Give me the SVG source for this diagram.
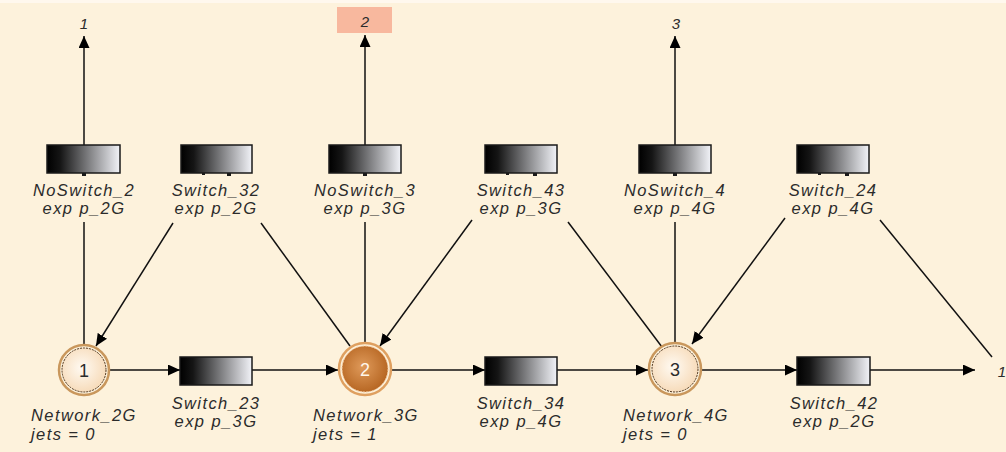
<svg xmlns="http://www.w3.org/2000/svg" width="1006" height="452" viewBox="0 0 1006 452">
  <style>
    .lbl { font-family: "Liberation Sans", Arial, sans-serif; font-style: italic; font-size: 16.5px; fill: #2b2b2b; letter-spacing: 1.4px; }
    .num { font-family: "Liberation Sans", Arial, sans-serif; font-size: 18px; fill: #2b2b2b; text-anchor: middle; }
    .ref { font-family: "Liberation Sans", Arial, sans-serif; font-style: italic; font-size: 15px; fill: #2b2b2b; text-anchor: middle; }
    .trans { fill: url(#transGrad); stroke: #1a1a1a; stroke-width: 1.5; }
    .arc { stroke: #111; stroke-width: 1.5; fill: none; }
    .arrow { marker-end: url(#head); }
    .tick { fill: #1a1a1a; }
  </style>
  <defs>
    <linearGradient id="transGrad" x1="0" y1="0" x2="1" y2="0">
      <stop offset="0" stop-color="#000"/>
      <stop offset="0.18" stop-color="#151515"/>
      <stop offset="1" stop-color="#f2f3f8"/>
    </linearGradient>
    <radialGradient id="placeLight" cx="0.45" cy="0.45" r="0.6">
      <stop offset="0" stop-color="#fffaf2"/>
      <stop offset="1" stop-color="#f6d9b6"/>
    </radialGradient>
    <radialGradient id="placeMarked" cx="0.45" cy="0.45" r="0.6">
      <stop offset="0" stop-color="#df9a5a"/>
      <stop offset="1" stop-color="#b4631f"/>
    </radialGradient>
    <marker id="head" markerUnits="userSpaceOnUse" markerWidth="13" markerHeight="12" refX="12" refY="5.5" orient="auto">
      <path d="M0,0 L12,5.5 L0,11 z" fill="#000"/>
    </marker>
  </defs>

  <!-- canvas -->
  <rect x="0" y="0" width="1006" height="452" fill="#fdf2dc"/>
  <rect x="0" y="0" width="1006" height="3" fill="#fff8ee"/>

  <!-- connectors -->
  <g id="connectors">
    <!-- outputs of the NoSwitch transitions -->
    <line class="arc arrow" x1="84" y1="145" x2="84" y2="36"/>
    <line class="arc arrow" x1="365" y1="145" x2="365" y2="35"/>
    <line class="arc arrow" x1="675" y1="145" x2="675" y2="36"/>
    <!-- places to NoSwitch transitions -->
    <line class="arc" x1="84" y1="222" x2="84" y2="346"/>
    <line class="arc" x1="365" y1="222" x2="365" y2="343"/>
    <line class="arc" x1="675" y1="222" x2="675" y2="343"/>
    <!-- switch transitions into places -->
    <line class="arc arrow" x1="173" y1="223" x2="96" y2="346"/>
    <line class="arc arrow" x1="472" y1="220" x2="380" y2="346"/>
    <line class="arc arrow" x1="785" y1="218" x2="692" y2="344"/>
    <!-- places feeding switch transitions -->
    <line class="arc" x1="261" y1="223" x2="350" y2="346"/>
    <line class="arc" x1="568" y1="222" x2="662" y2="347"/>
    <line class="arc" x1="880" y1="220" x2="992" y2="357"/>
    <!-- main chain -->
    <line class="arc arrow" x1="109" y1="370" x2="180" y2="370"/>
    <line class="arc arrow" x1="252" y1="370" x2="338" y2="370"/>
    <line class="arc arrow" x1="392" y1="370" x2="485" y2="370"/>
    <line class="arc arrow" x1="557" y1="370" x2="648" y2="370"/>
    <line class="arc arrow" x1="702" y1="370" x2="797" y2="370"/>
    <line class="arc arrow" x1="870" y1="370" x2="975" y2="370"/>
  </g>

  <!-- output references -->
  <g id="ref_1_top"><text class="ref" x="84" y="29">1</text></g>
  <g id="ref_2_top">
    <rect x="337" y="7" width="55" height="26" fill="#f8b89e"/>
    <text class="ref" x="365" y="27">2</text>
  </g>
  <g id="ref_3_top"><text class="ref" x="676" y="29">3</text></g>
  <g id="ref_1_right"><text class="ref" x="1002" y="377">1</text></g>

  <!-- top row transitions -->
  <g id="NoSwitch_2">
    <rect class="trans" x="47" y="145" width="73" height="28"/>
    <rect class="tick" x="82" y="173" width="4" height="3"/>
    <text class="lbl" x="84" y="196" text-anchor="middle">NoSwitch_2</text>
    <text class="lbl" x="84" y="214" text-anchor="middle">exp p_2G</text>
  </g>
  <g id="Switch_32">
    <rect class="trans" x="181" y="145" width="71" height="28"/>
    <rect class="tick" x="202" y="173" width="3" height="2"/>
    <rect class="tick" x="227" y="173" width="4" height="3"/>
    <text class="lbl" x="216" y="196" text-anchor="middle">Switch_32</text>
    <text class="lbl" x="216" y="214" text-anchor="middle">exp p_2G</text>
  </g>
  <g id="NoSwitch_3">
    <rect class="trans" x="329" y="145" width="72" height="28"/>
    <rect class="tick" x="363" y="173" width="4" height="3"/>
    <text class="lbl" x="365" y="196" text-anchor="middle">NoSwitch_3</text>
    <text class="lbl" x="365" y="214" text-anchor="middle">exp p_3G</text>
  </g>
  <g id="Switch_43">
    <rect class="trans" x="485" y="145" width="72" height="28"/>
    <rect class="tick" x="506" y="173" width="3" height="2"/>
    <rect class="tick" x="533" y="173" width="4" height="3"/>
    <text class="lbl" x="521" y="196" text-anchor="middle">Switch_43</text>
    <text class="lbl" x="521" y="214" text-anchor="middle">exp p_3G</text>
  </g>
  <g id="NoSwitch_4">
    <rect class="trans" x="639" y="145" width="72" height="28"/>
    <rect class="tick" x="673" y="173" width="4" height="3"/>
    <text class="lbl" x="675" y="196" text-anchor="middle">NoSwitch_4</text>
    <text class="lbl" x="675" y="214" text-anchor="middle">exp p_4G</text>
  </g>
  <g id="Switch_24">
    <rect class="trans" x="797" y="145" width="72" height="28"/>
    <rect class="tick" x="818" y="173" width="3" height="2"/>
    <rect class="tick" x="845" y="173" width="4" height="3"/>
    <text class="lbl" x="833" y="196" text-anchor="middle">Switch_24</text>
    <text class="lbl" x="833" y="214" text-anchor="middle">exp p_4G</text>
  </g>

  <!-- bottom row transitions -->
  <g id="Switch_23">
    <rect class="trans" x="180" y="357" width="72" height="28"/>
    <text class="lbl" x="216" y="409" text-anchor="middle">Switch_23</text>
    <text class="lbl" x="216" y="427" text-anchor="middle">exp p_3G</text>
  </g>
  <g id="Switch_34">
    <rect class="trans" x="485" y="357" width="72" height="28"/>
    <text class="lbl" x="521" y="409" text-anchor="middle">Switch_34</text>
    <text class="lbl" x="521" y="427" text-anchor="middle">exp p_4G</text>
  </g>
  <g id="Switch_42">
    <rect class="trans" x="797" y="357" width="73" height="28"/>
    <text class="lbl" x="834" y="409" text-anchor="middle">Switch_42</text>
    <text class="lbl" x="834" y="427" text-anchor="middle">exp p_2G</text>
  </g>

  <!-- places -->
  <g id="Network_2G">
    <circle cx="84" cy="370" r="25" fill="none" stroke="#c9975c" stroke-width="2.5"/>
    <circle cx="84" cy="370" r="22" fill="url(#placeLight)" stroke="#4a3018" stroke-width="1" stroke-dasharray="2 1"/>
    <text class="num" x="84" y="377">1</text>
    <text class="lbl" x="31" y="421">Network_2G</text>
    <text class="lbl" x="31" y="440">jets = 0</text>
  </g>
  <g id="Network_3G">
    <circle cx="365" cy="369" r="26" fill="none" stroke="#dfa060" stroke-width="2.5"/>
    <circle cx="365" cy="369" r="23" fill="url(#placeMarked)" stroke="#f3c79a" stroke-width="1" stroke-dasharray="2 1"/>
    <text class="num" x="365" y="376" style="fill:#fff6ea">2</text>
    <text class="lbl" x="313" y="421">Network_3G</text>
    <text class="lbl" x="313" y="440">jets = 1</text>
  </g>
  <g id="Network_4G">
    <circle cx="675" cy="369" r="26" fill="none" stroke="#c9975c" stroke-width="2.5"/>
    <circle cx="675" cy="369" r="23" fill="url(#placeLight)" stroke="#4a3018" stroke-width="1" stroke-dasharray="2 1"/>
    <text class="num" x="675" y="376">3</text>
    <text class="lbl" x="623" y="421">Network_4G</text>
    <text class="lbl" x="623" y="440">jets = 0</text>
  </g>
</svg>
